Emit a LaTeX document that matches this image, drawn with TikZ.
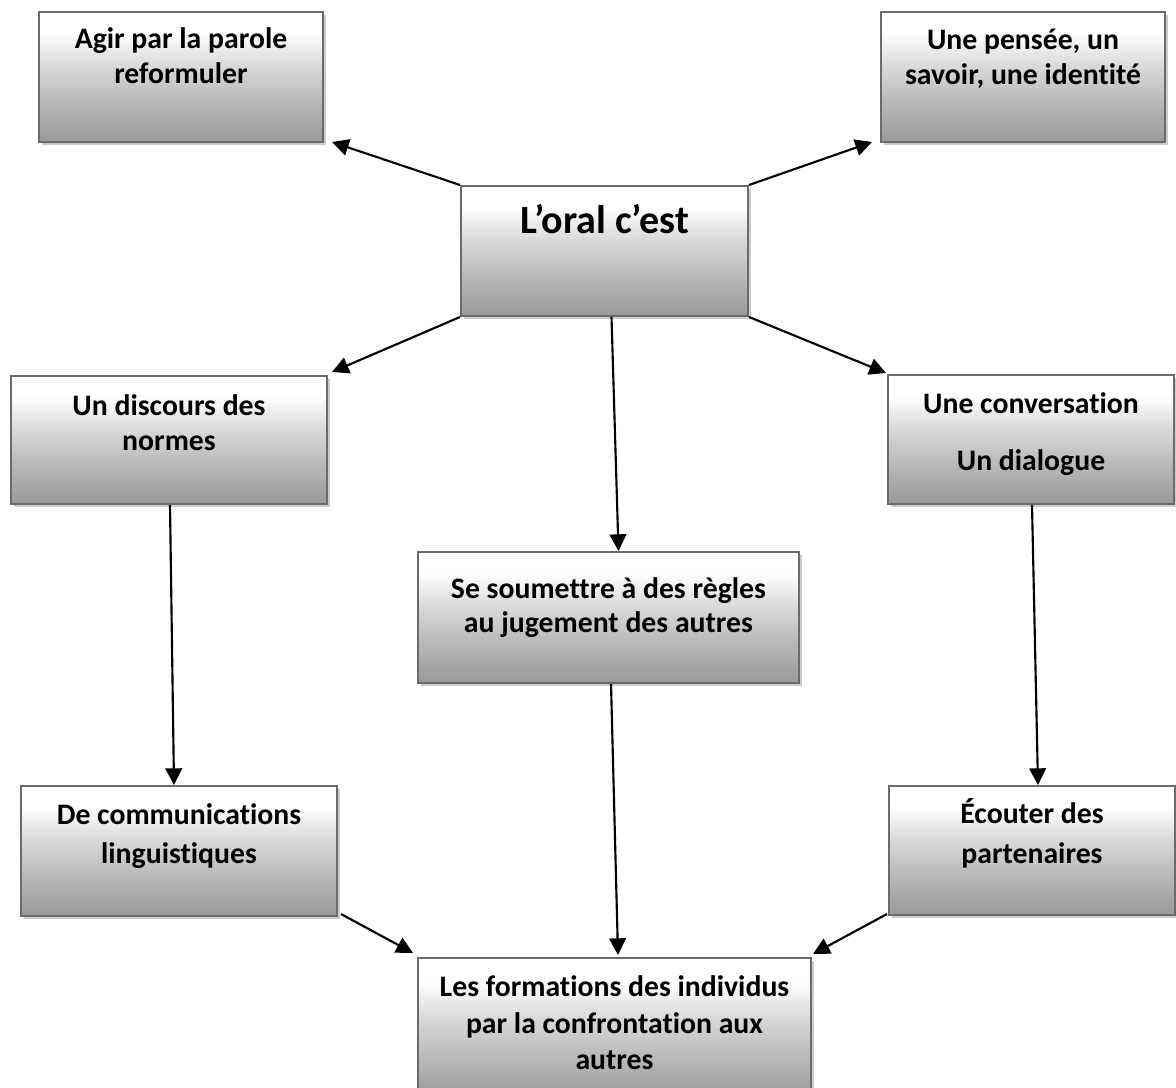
\documentclass[tikz,border=0pt]{standalone}
\usepackage{fontspec}
\setmainfont{Carlito}[Ligatures=CommonOff]
\usetikzlibrary{arrows.meta,shadows}
\definecolor{shA}{gray}{0.60}
\definecolor{shB}{gray}{0.72}
\definecolor{shC}{gray}{0.86}
\definecolor{bord}{gray}{0.42}
\pgfdeclareverticalshading{boxshade}{100bp}{color(0bp)=(shA); color(25bp)=(shA); color(40bp)=(shB); color(55bp)=(shC); color(67bp)=(white); color(100bp)=(white)}
\begin{document}
\begin{tikzpicture}[x=0.75pt,y=-0.75pt,
  boxnode/.style={rectangle, draw=bord, line width=1.5pt, inner sep=0pt,
    shading=boxshade,
    drop shadow={shadow xshift=2.6pt, shadow yshift=-2.6pt, fill=black, opacity=0.2}},
  txt/.style={anchor=base, inner sep=0pt, font=\fontsize{22.3}{26}\selectfont\bfseries},
  bigtxt/.style={anchor=base, inner sep=0pt, font=\fontsize{30}{34}\selectfont\bfseries},
  conn/.style={line width=1.6pt, -{Triangle[length=12.5pt,width=12.5pt]}}]
\useasboundingbox (0,0) rectangle (1176,1087);

% boxes
\node[boxnode, minimum width=213pt, minimum height=97.5pt] (agir) at (181,77) {};
\node[boxnode, minimum width=213pt, minimum height=97.5pt] (pens) at (1023,77) {};
\node[boxnode, minimum width=215.25pt, minimum height=97.5pt] (oral) at (604.5,251) {};
\node[boxnode, minimum width=237pt, minimum height=96pt] (disc) at (169,440) {};
\node[boxnode, minimum width=214.5pt, minimum height=96.75pt] (conv) at (1031,439.5) {};
\node[boxnode, minimum width=285.75pt, minimum height=98.25pt] (soum) at (608.5,617.5) {};
\node[boxnode, minimum width=237pt, minimum height=97.5pt] (comm) at (179,851) {};
\node[boxnode, minimum width=214.5pt, minimum height=96.75pt] (ecou) at (1032,850.5) {};
\node[boxnode, minimum width=294.75pt, minimum height=108pt] (form) at (614.5,1030) {};

% texts
\node[txt] (agirA) at (181,49) {Agir par la parole};
\node[txt] (agirB) at (181,84) {reformuler};
\node[txt] (pensA) at (1023,50) {Une pensée, un};
\node[txt] (pensB) at (1023,85) {savoir, une identité};
\node[bigtxt] (oralA) at (604.5,234) {L’oral c’est};
\node[txt] (discA) at (169,415) {Un discours des};
\node[txt] (discB) at (169,450) {normes};
\node[txt] (convA) at (1031,413) {Une conversation};
\node[txt] (convB) at (1031,470) {Un dialogue};
\node[txt] (soumA) at (608.5,598) {Se soumettre à des règles};
\node[txt] (soumB) at (608.5,632) {au jugement des autres};
\node[txt] (commA) at (179,824) {De communications};
\node[txt] (commB) at (179,863) {linguistiques};
\node[txt] (ecouA) at (1032,823) {Écouter des};
\node[txt] (ecouB) at (1032,863) {partenaires};
\node[txt] (formA) at (614.5,996) {Les formations des individus};
\node[txt] (formB) at (614.5,1033) {par la confrontation aux};
\node[txt] (formC) at (614.5,1069) {autres};

% connectors
\draw[conn] (oral.north west) -- ([shift={(8,-1)}]agir.south east);
\draw[conn] (oral.north east) -- ([shift={(-8,-1)}]pens.south west);
\draw[conn] (oral.south west) -- ([shift={(4,-3)}]disc.north east);
\draw[conn] (oral.south east) -- ([shift={(-1,-1)}]conv.north west);
\draw[conn] ([shift={(7,0)}]oral.south) -- ([shift={(10,0)}]soum.north);
\draw[conn] ([shift={(1,0)}]disc.south) -- ([shift={(-5,0)}]comm.north);
\draw[conn] ([shift={(1,0)}]conv.south) -- ([shift={(6,0)}]ecou.north);
\draw[conn] ([shift={(2.5,0)}]soum.south) -- ([shift={(3.5,-2)}]form.north);
\draw[conn] ([shift={(3,-3)}]comm.south east) -- ([shift={(-4,-4)}]form.north west);
\draw[conn] ([shift={(-1,-2)}]ecou.south west) -- ([shift={(1,-3)}]form.north east);
\end{tikzpicture}
\end{document}
